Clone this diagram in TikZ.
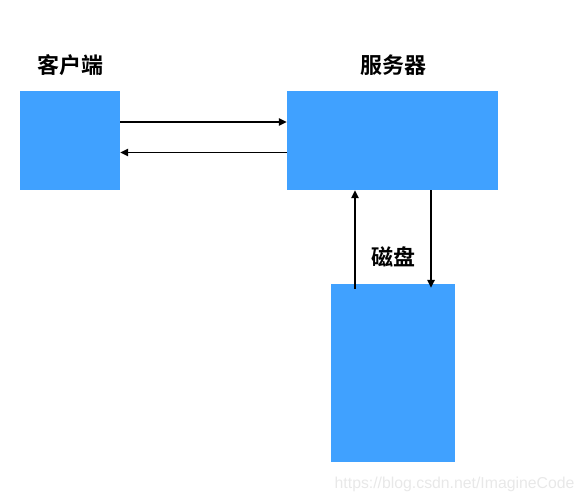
\documentclass[tikz,border=0pt]{standalone}
\usepackage{fontspec}
\setmainfont{Liberation Sans}
\newfontfamily\cjk{Noto Sans CJK SC}[BoldFont={Noto Sans CJK SC Bold}]
\usetikzlibrary{arrows.meta}
\definecolor{boxblue}{RGB}{64,161,255}

\begin{document}
\begin{tikzpicture}
	[x=1pt, y=-1pt,
	box/.style={rectangle,fill=boxblue,draw=none,inner sep=0pt},
	lbl/.style={font=\cjk\bfseries\fontsize{22}{26}\selectfont},
	link/.style={line width=1.5pt,-{Triangle[length=8pt,width=7.5pt]}}]
	\useasboundingbox (0,0) rectangle (586,501);
	\node (client) [box,minimum width=100pt,minimum height=99pt] at (70,140.5) {};
	\node (server) [box,minimum width=211pt,minimum height=99pt] at (392.5,140.5) {};
	\node (disk) [box,minimum width=124pt,minimum height=178pt] at (393,373) {};
	\node (clientlbl) [lbl] at (70,65) {客户端};
	\node (serverlbl) [lbl] at (393,65) {服务器};
	\node (disklbl) [lbl] at (393,257) {磁盘};
	\draw [link] ([yshift=18.5pt]client.east) -- ([yshift=18.5pt]server.west);
	\draw [link] ([yshift=-12pt]server.west) -- ([yshift=-12pt]client.east);
	\draw [link] ([xshift=-38pt,yshift=-5pt]disk.north) -- ([xshift=-37.5pt]server.south);
	\draw [link] ([xshift=38.5pt]server.south) -- ([xshift=38pt,yshift=-4pt]disk.north);
	\node (mark) [anchor=east,text=black!9,font=\fontsize{15.8}{18}\selectfont] at (578,484) {https://blog.csdn.net/ImagineCode};
\end{tikzpicture}
\end{document}
